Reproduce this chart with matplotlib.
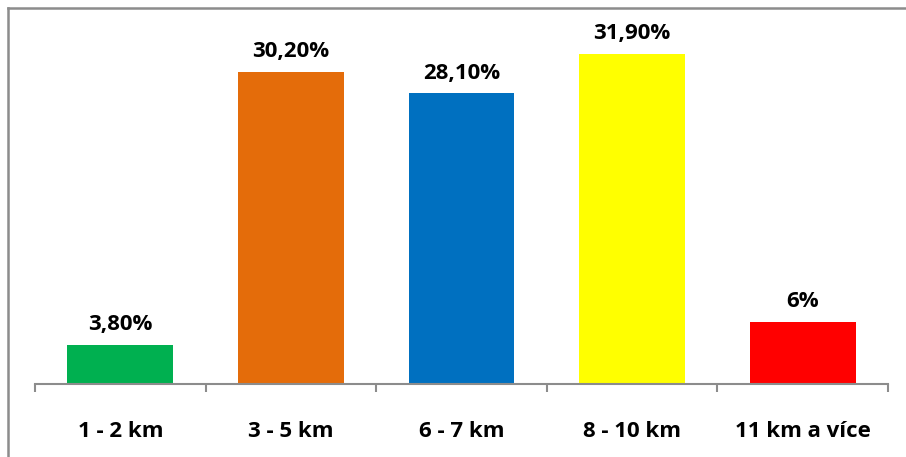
import matplotlib
matplotlib.use('Agg')
import matplotlib.pyplot as plt
from matplotlib.lines import Line2D

categories = ['1 - 2 km', '3 - 5 km', '6 - 7 km', '8 - 10 km', '11 km a více']
shares = [3.8, 30.2, 28.1, 31.9, 6.0]
value_labels = ['3,80%', '30,20%', '28,10%', '31,90%', '6%']
bar_colors = ['#00B050', '#E46C0A', '#0070C0', '#FFFF00', '#FF0000']

plt.rcParams['font.family'] = ['Open Sans', 'DejaVu Sans']

W, H = 906, 457
fig = plt.figure(figsize=(W / 100, H / 100), dpi=100)
fig.patch.set_facecolor('white')

# axes box: x axis runs 35..888 px, baseline at y=384 px
left, right = 35 / W, 888 / W
bottom = 1 - 384 / H
top = 1 - 22 / H
ax = fig.add_axes([left, bottom, right - left, top - bottom])

x = list(range(len(categories)))
ax.bar(x, shares, width=0.62, color=bar_colors, zorder=2)
ax.set_xlim(-0.5, len(categories) - 0.5)
ax.set_ylim(0, 35)

for xi, v, lab in zip(x, shares, value_labels):
    ax.annotate(lab, (xi, v), xytext=(0, 7), textcoords='offset points',
                ha='center', va='bottom', fontsize=16, fontweight='bold',
                color='black')

for side in ['top', 'right', 'left']:
    ax.spines[side].set_visible(False)
ax.spines['bottom'].set_color('#8c8c8c')
ax.spines['bottom'].set_linewidth(1.5)
ax.set_yticks([])

# ticks sit between categories
ax.set_xticks([i - 0.5 for i in range(len(categories) + 1)], minor=False)
ax.set_xticklabels([])
ax.tick_params(axis='x', length=6, width=1.5, color='#8c8c8c', direction='out')
for xi, lab in zip(x, categories):
    ax.text(xi, -0.13, lab, transform=ax.get_xaxis_transform(), ha='center',
            va='center', fontsize=16, fontweight='bold', color='black')

# frame around the chart (top and left edges)
fig.add_artist(Line2D([8 / W, 1], [1 - 8 / H, 1 - 8 / H], color='#8c8c8c', lw=1.8,
                      transform=fig.transFigure))
fig.add_artist(Line2D([8 / W, 8 / W], [0, 1 - 8 / H], color='#8c8c8c', lw=1.8,
                      transform=fig.transFigure))

fig.savefig('out.png', dpi=100)
